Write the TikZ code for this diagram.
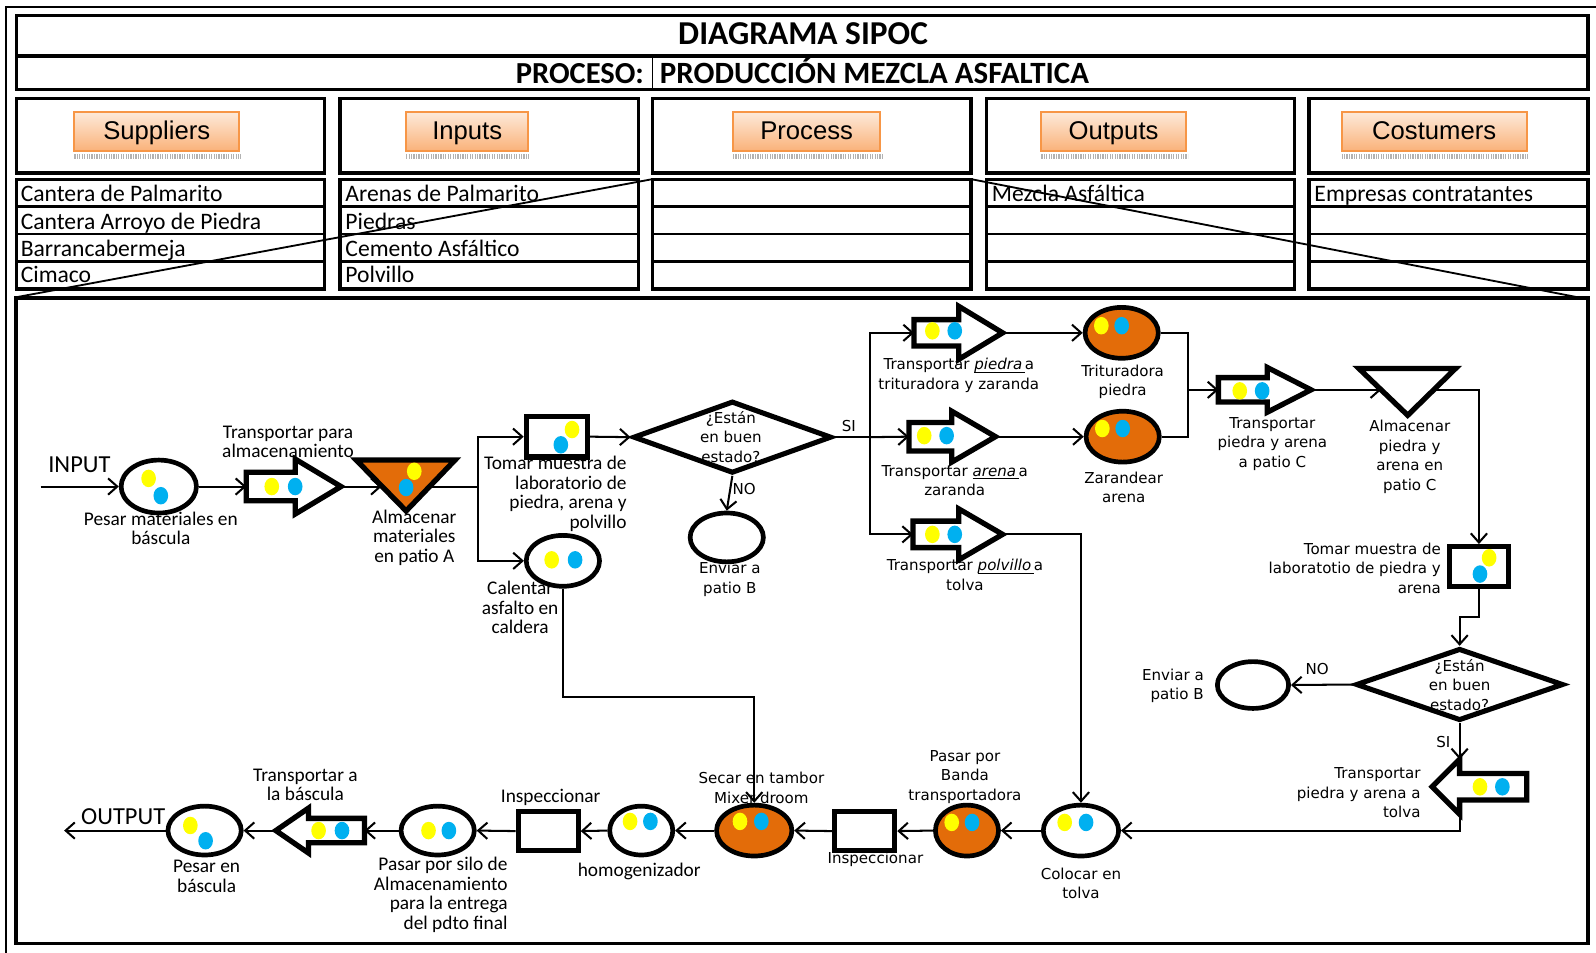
\documentclass[tikz,border=0pt]{standalone}
\usepackage{fontspec}
\setmainfont{Carlito}
\newfontfamily\tah{DejaVu Sans}
\newfontfamily\ari{Liberation Sans}
\usetikzlibrary{shapes.geometric,arrows.meta,calc}

\definecolor{asph}{HTML}{E36C09}
\definecolor{dotY}{HTML}{FFFF00}
\definecolor{dotB}{HTML}{00B0F0}
\definecolor{btnedge}{HTML}{F79646}
\definecolor{btntop}{HTML}{FDEADA}
\definecolor{btnbot}{HTML}{FAB27A}

\tikzset{
  conn/.style={line width=1pt,-{Straight Barb[length=4.5pt,width=8pt,line width=1pt]}},
  plain/.style={line width=1pt},
  blk/.style={draw,line width=2.6pt,fill=white,line join=miter},
  oper/.style={ellipse,draw,line width=2.3pt,fill=white,inner sep=0pt},
  hot/.style={oper,fill=asph},
  insp/.style={rectangle,draw,line width=2.5pt,fill=white,inner sep=0pt},
  decis/.style={diamond,draw,line width=2.5pt,fill=white,inner sep=0pt},
  lblC/.style={font=\fontsize{9.5}{9.6}\selectfont,align=center,inner sep=0pt},
  lblT/.style={font=\tah\fontsize{7.4}{9.6}\selectfont,align=center,inner sep=0pt},
  cell/.style={font=\fontsize{11.6}{12}\selectfont,anchor=base west,inner sep=0pt},
  btn/.style={draw=btnedge,line width=1pt,top color=btntop,bottom color=btnbot,
    font=\ari\fontsize{12.6}{13}\selectfont,inner sep=0pt,minimum height=19pt,
    text height=9.6pt,text depth=1.2pt},
  frame/.style={line width=1.6pt},
}

% italic word with a close underline
\newcommand\uit[1]{\setbox0\hbox{\itshape #1\,}\rlap{\rule[-1.3pt]{\wd0}{0.5pt}}\box0}

% block arrow: name, tail x, head base x, apex x, centre y, half shaft, half head
\newcommand\blockarrow[7]{%
  \draw[blk] (#2,#5-#6) -- (#3,#5-#6) -- (#3,#5-#7) -- (#4,#5) -- (#3,#5+#7)
    -- (#3,#5+#6) -- (#2,#5+#6) -- cycle;
  \coordinate (#1-t) at (#2,#5);
  \coordinate (#1-a) at (#4,#5);
  \coordinate (#1-n) at (#3,#5-#7);
  \coordinate (#1-s) at (#3,#5+#7);
}
% yellow and blue material dots
\newcommand\matdots[4]{%
  \fill[dotY] (#1,#2) ellipse[x radius=3.6pt,y radius=4.3pt];
  \fill[dotB] (#3,#4) ellipse[x radius=3.6pt,y radius=4.3pt];
}

\begin{document}
\begin{tikzpicture}[x=0.5pt,y=-0.5pt]
\useasboundingbox (0,0) rectangle (1568,936);

% outer rule
\draw[line width=1pt] (5.6,936) -- (5.6,6.6) -- (1568,6.6);

% title rows
\draw[frame] (16,15) rectangle (1560,88);
\draw[frame] (16,55) -- (1560,55);
\draw[line width=0.8pt] (641,55) -- (641,88);
\node[font=\bfseries\fontsize{16.4}{17}\selectfont,anchor=base,inner sep=0pt] (ttl) at (789,44) {DIAGRAMA SIPOC};
\node[font=\bfseries\fontsize{15}{16}\selectfont,anchor=base east,inner sep=0pt] (prl) at (633,82) {PROCESO:};
\node[font=\bfseries\fontsize{15.2}{16}\selectfont,anchor=base west,inner sep=0pt] (prn) at (648,82) {PRODUCCIÓN MEZCLA ASFALTICA};

% SIPOC columns
\foreach \xa/\xb in {16/319,334/627,641/954,969/1272,1286/1560}{
  \draw[frame] (\xa,97) rectangle (\xb,170);
  \draw[frame] (\xa,176) rectangle (\xb,284);
  \foreach \yy in {203,230,257} \draw[line width=1.2pt] (\xa,\yy) -- (\xb,\yy);
}
\foreach \nm/\cx/\w/\txt in {bS/154/81/Suppliers,bI/459/60/Inputs,bP/792.5/72.5/Process,bO/1094/71/Outputs,bC/1409/91/Costumers}{
  \node[btn,minimum width=\w pt] (\nm) at (\cx,129) {\txt};
  \draw[gray!60,line width=2.4pt,dash pattern=on 0.6pt off 0.6pt]
    ($(\nm.south west)+(1,5)$) -- ($(\nm.south east)+(1,5)$);
}
\node[cell] (s1) at (20,198) {Cantera de Palmarito};
\node[cell] (s2) at (20,225) {Cantera Arroyo de Piedra};
\node[cell] (s3) at (20,252) {Barrancabermeja};
\node[cell] (s4) at (20,278) {Cimaco};
\node[cell] (i1) at (339,198) {Arenas de Palmarito};
\node[cell] (i2) at (339,225) {Piedras};
\node[cell] (i3) at (339,252) {Cemento Asfáltico};
\node[cell] (i4) at (339,278) {Polvillo};
\node[cell] (o1) at (974,198) {Mezcla Asfáltica};
\node[cell] (c1) at (1291,198) {Empresas contratantes};

% zoom rays and process frame
\draw[line width=0.9pt] (641,176) -- (16,292);
\draw[line width=0.9pt] (954,176) -- (1560,294);
\draw[line width=1.8pt] (16,293) rectangle (1560,927);

% ---------- shapes ----------
\node[oper,minimum width=37pt,minimum height=26pt] (pes1) at (156,478) {};
\blockarrow{ar1}{242}{290}{335}{478}{14}{27}
\draw[blk,fill=asph] (350,452) -- (447,452) -- (399,502) -- cycle;
\coordinate (tri1-w) at (375,478);
\coordinate (tri1-e) at (422,478);
\node[insp,minimum width=30pt,minimum height=20pt] (tom1) at (547,429) {};
\node[oper,minimum width=36pt,minimum height=25pt] (cal) at (553,551) {};
\node[decis,minimum width=97.5pt,minimum height=35.5pt] (dia1) at (719.5,429.5) {};
\node[oper,minimum width=36pt,minimum height=24pt] (env1) at (714,528) {};
\blockarrow{ar2}{898}{942}{985}{327}{13}{26}
\blockarrow{ar3}{893}{935}{978}{429}{14}{25}
\blockarrow{ar4}{897}{942}{985}{525}{13}{25}
\node[hot,minimum width=36pt,minimum height=25pt] (trit) at (1102,327) {};
\node[hot,minimum width=36pt,minimum height=25pt] (zar) at (1103,429) {};
\blockarrow{ar5}{1197}{1245}{1288}{383}{12}{22}
\draw[blk] (1335,362) -- (1430,362) -- (1383,408) -- cycle;
\coordinate (tri2-w) at (1357,383);
\coordinate (tri2-e) at (1408,383);
\node[insp,minimum width=29pt,minimum height=19.5pt] (tom2) at (1453,556.5) {};
\node[decis,minimum width=102pt,minimum height=35.5pt] (dia2) at (1434,672.5) {};
\node[oper,minimum width=35pt,minimum height=23pt] (env2) at (1231,673) {};
\blockarrow{ar6}{1500}{1434}{1407}{773}{13}{27}
\node[oper,minimum width=37pt,minimum height=25pt] (col) at (1062,816) {};
\node[hot,minimum width=31pt,minimum height=25pt] (ban) at (950,816) {};
\node[insp,minimum width=29.5pt,minimum height=19.5pt] (ins1) at (849.5,816.5) {};
\node[hot,minimum width=37pt,minimum height=25pt] (sec) at (741,816) {};
\node[oper,minimum width=31pt,minimum height=24pt] (hom) at (630,816) {};
\node[insp,minimum width=29.5pt,minimum height=19.5pt] (ins2) at (538.5,816.5) {};
\node[oper,minimum width=36pt,minimum height=24pt] (silo) at (430,816) {};
\blockarrow{ar7}{358}{303}{271}{816}{12}{22}
\node[oper,minimum width=36pt,minimum height=24pt] (pes2) at (201,816) {};

% material dots
\matdots{146}{470}{158}{487}
\matdots{267}{478}{290}{478}
\matdots{407}{463}{399}{479}
\matdots{562}{422}{551}{437}
\matdots{542}{550}{565}{550}
\matdots{916}{325}{938}{325}
\matdots{1082}{320}{1102}{320}
\matdots{908}{428}{930}{428}
\matdots{1083}{421}{1103}{421}
\matdots{916}{525}{938}{525}
\matdots{1218}{384}{1240}{384}
\matdots{1463}{548}{1454}{564}
\matdots{1454}{773}{1476}{773}
\matdots{1046}{808}{1067}{808}
\matdots{935}{808}{955}{808}
\matdots{727}{807}{748}{807}
\matdots{619}{807}{639}{807}
\matdots{421}{816}{441}{816}
\matdots{313}{816}{336}{816}
\matdots{187}{811}{202}{826}

% ---------- labels ----------
\node[lblC,font=\fontsize{12}{12}\selectfont] (inp) at (78,457) {INPUT};
\node[lblC,font=\fontsize{12}{12}\selectfont] (outp) at (121,802) {OUTPUT};
\node[lblC] (l1) at (158,519) {Pesar materiales en\\báscula};
\node[lblC] (l2) at (283,434) {Transportar para\\almacenamiento};
\node[lblC] (l3) at (407,528) {Almacenar\\materiales\\en patio A};
\node[lblC,anchor=east,align=right] (l4) at (616,485) {Tomar muestra de\\laboratorio de\\piedra, arena y\\polvillo};
\node[lblC] (l5) at (511,597) {Calentar\\asfalto en\\caldera};
\node[lblT] (l6) at (718,429) {¿Están\\en buen\\estado?};
\node[lblT] (l7) at (731,480) {NO};
\node[lblT] (l8) at (717,569) {Enviar a\\patio B};
\node[lblT] (l9) at (834,419) {SI};
\node[lblT] (l10) at (942,369) {Transportar \uit{piedra}a\\trituradora y zaranda};
\node[lblT] (l11) at (1103,375) {Trituradora\\piedra};
\node[lblT] (l12) at (938,472) {Transportar \uit{arena}a\\zaranda};
\node[lblT] (l13) at (1104,479) {Zarandear\\arena};
\node[lblT] (l14) at (948,565) {Transportar \uit{polvillo}a\\tolva};
\node[lblT] (l15) at (1250,436) {Transportar\\piedra y arena\\a patio C};
\node[lblT] (l16) at (1385,449) {Almacenar\\piedra y\\arena en\\patio C};
\node[lblT,anchor=east,align=right] (l17) at (1416,558) {Tomar muestra de\\laboratotio de piedra y\\arena};
\node[lblT] (l18) at (1434,673) {¿Están\\en buen\\estado?};
\node[lblT] (l19) at (1294,657) {NO};
\node[lblT,anchor=east,align=right] (l20) at (1183,674) {Enviar a\\patio B};
\node[lblT] (l21) at (1418,729) {SI};
\node[lblT,anchor=east,align=right] (l22) at (1396,779) {Transportar\\piedra y arena a\\tolva};
\node[lblT] (l23) at (1062,868) {Colocar en\\tolva};
\node[lblT] (l24) at (948,763) {Pasar por\\Banda\\transportadora};
\node[lblT] (l25) at (860,844) {Inspeccionar};
\node[lblT] (l26) at (748,774) {Secar en tambor\\Mixer droom};
\node[lblC] (l27) at (628,856) {homogenizador};
\node[lblC] (l28) at (541,783) {Inspeccionar};
\node[lblC,anchor=east,align=right] (l29) at (499,879) {Pasar por silo de\\Almacenamiento\\para la entrega\\del pdto final};
\node[lblC] (l30) at (300,771) {Transportar a\\la báscula};
\node[lblC] (l31) at (203,861) {Pesar en\\báscula};

% ---------- connectors ----------
\coordinate (in0) at (40,478);
\coordinate (out0) at (63,816);
\coordinate (j1) at (470,478);
\coordinate (j2) at (855,429.5);
\coordinate (j3) at (1167,383);
\coordinate (j4) at (1453,606);
\coordinate (j5) at (553,685);

\draw[conn] (in0) -- (pes1);
\draw[conn] (pes1) -- (ar1-t);
\draw[conn] (ar1-a) -- (tri1-w);
\draw[plain] (tri1-e) -- (j1);
\draw[conn] (j1) |- (tom1.west);
\draw[conn] (j1) |- (cal.west);
\draw[conn] (tom1.east) -- (dia1.west);
\draw[conn] (dia1.south) -- (env1.north);
\draw[plain] (dia1.east) -- (j2);
\draw[conn] (j2) |- (ar2-t);
\draw[conn] (j2) -- (ar3-t);
\draw[conn] (j2) |- (ar4-t);
\draw[conn] (ar2-a) -- (trit.west);
\draw[conn] (ar3-a) -- (zar.west);
\draw[conn] (ar4-a) -| (col.north);
\draw[plain] (trit.east) -| (j3) |- (zar.east);
\draw[conn] (j3) -- (ar5-t);
\draw[conn] (ar5-a) -- (tri2-w);
\draw[conn] (tri2-e) -| (tom2.north);
\draw[conn] (tom2.south) -- (j4) -| (dia2.north);
\draw[conn] (dia2.west) -- (env2.east);
\draw[conn] (dia2.south) -- (ar6-n);
\draw[conn] (ar6-s) |- (col.east);
\draw[conn] (col.west) -- (ban.east);
\draw[conn] (ban.west) -- (ins1.east);
\draw[conn] (ins1.west) -- (sec.east);
\draw[conn] (cal.south) -- (j5) -| (sec.north);
\draw[conn] (sec.west) -- (hom.east);
\draw[conn] (hom.west) -- (ins2.east);
\draw[conn] (ins2.west) -- (silo.east);
\draw[conn] (silo.west) -- (ar7-t);
\draw[conn] (ar7-a) -- (pes2.east);
\draw[conn] (pes2.west) -- (out0);
\end{tikzpicture}
\end{document}
